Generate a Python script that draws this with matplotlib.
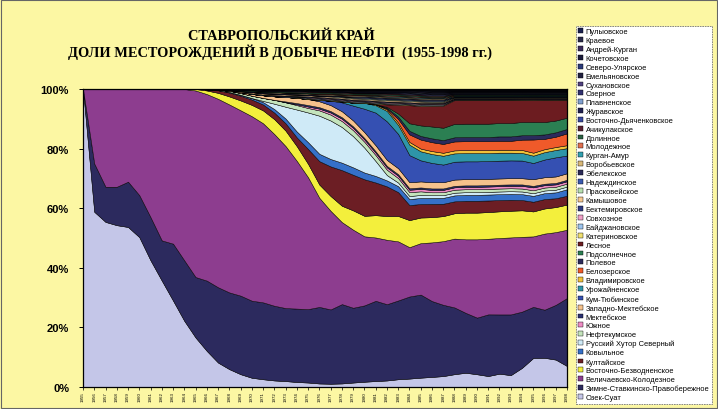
import matplotlib
matplotlib.use('Agg')
import matplotlib.pyplot as plt
import numpy as np
from matplotlib.patches import Patch, Rectangle

years = list(range(1955, 1999))

# shares of fields (%), bottom of stack first
ozek_suat = [100, 58.8, 55.4, 54.3, 53.7, 50.3, 42.5, 35.7, 29.0, 22.2, 16.6,
             12.1, 8.2, 6.0, 4.3, 3.1, 2.6, 2.2, 2.0, 1.7, 1.5, 1.2,
             1.1, 1.2, 1.5, 1.8, 2.0, 2.2, 2.6, 2.8, 3.1, 3.4, 3.7,
             4.3, 4.8, 4.3, 3.7, 4.5, 4.0, 6.5, 9.9, 9.9, 9.3, 7.1]
zimne_stavka = [0, 16.2, 11.8, 12.9, 15.2, 14.1, 14.5, 13.5, 19.1, 20.3, 20.3,
                23.6, 25.3, 25.8, 26.4, 25.9, 25.8, 25.1, 24.7, 25.0, 24.7, 26.1,
                25.1, 26.7, 25.2, 26.1, 27.0, 25.7, 26.4, 27.3, 27.6, 25.6, 24.2,
                22.4, 20.2, 19.1, 20.8, 20.0, 20.5, 19.1, 17.4, 16.3, 18.6, 23.0]
velichaevsko = [0, 25.0, 32.8, 32.8, 31.1, 35.6, 43.0, 50.8, 51.9, 57.5, 62.6,
                62.6, 63.3, 63.2, 62.3, 62.0, 60.1, 57.7, 54.8, 50.3, 44.3, 37.2,
                33.3, 27.6, 26.3, 23.6, 21.3, 21.7, 19.8, 16.4, 17.1, 19.8, 21.6,
                23.1, 24.8, 26.4, 25.5, 25.8, 26.0, 25.4, 24.0, 25.8, 24.7, 23.1]
vost_bezvodnoe = [0, 0, 0, 0, 0, 0, 0, 0, 0, 0, 0.5,
                  1.2, 2.0, 2.7, 3.3, 3.8, 4.3, 5.0, 5.2, 5.0, 4.5, 4.5,
                  5.0, 5.5, 6.5, 7.0, 7.5, 8.0, 8.5, 9.0, 8.5, 8.5, 8.5,
                  8.5, 9.0, 9.0, 9.0, 9.0, 9.0, 9.0, 8.5, 8.5, 8.5, 8.5]
kultay = [0, 0, 0, 0, 0, 0, 0, 0, 0, 0, 0,
          0.4, 0.9, 1.3, 1.6, 1.8, 2.0, 2.2, 2.5, 3.0, 5.0, 8.0,
          10.0, 12.0, 12.0, 12.5, 11.0, 10.0, 8.0, 5.0, 4.5, 4.5, 4.2,
          4.0, 4.0, 4.0, 3.9, 3.8, 3.7, 3.5, 3.3, 3.2, 3.0, 3.0]
kovylnoe = [0, 0, 0, 0, 0, 0, 0, 0, 0, 0, 0,
            0, 0, 0.2, 0.3, 0.5, 0.8, 1.2, 1.6, 2.0, 2.3, 2.5,
            2.5, 2.5, 2.5, 2.3, 2.2, 2.0, 2.0, 2.0, 2.0, 2.0, 2.0,
            2.0, 2.0, 2.0, 2.0, 2.0, 2.0, 2.0, 2.0, 2.0, 2.0, 2.2]
rus_hutor = [0, 0, 0, 0, 0, 0, 0, 0, 0, 0, 0,
             0, 0, 0, 0, 0, 0.4, 1.8, 4.0, 7.5, 10.0, 13.0,
             13.0, 12.0, 10.5, 8.5, 5.0, 1.8, 1.2, 1.0, 1.0, 0.9, 0.9,
             0.9, 0.9, 0.9, 0.9, 0.9, 0.9, 0.9, 0.9, 0.9, 0.9, 0.9]
neftekum = [0, 0, 0, 0, 0, 0, 0, 0, 0, 0, 0,
            0, 0.2, 0.4, 0.6, 0.8, 1.0, 1.3, 1.5, 1.5, 1.5, 1.8,
            2.0, 2.0, 2.0, 2.0, 2.0, 1.8, 1.5, 1.3, 1.2, 1.0, 1.0,
            1.0, 1.0, 1.0, 1.0, 1.0, 1.0, 1.0, 1.0, 1.0, 1.0, 1.0]
yuzhnoe = [0, 0, 0, 0, 0, 0, 0, 0, 0, 0, 0,
           0, 0, 0, 0, 0, 0, 0, 0, 0.3, 0.5, 0.6,
           0.7, 0.8, 0.8, 0.8, 0.8, 0.8, 0.8, 0.8, 0.8, 0.8, 0.8,
           0.8, 0.8, 0.8, 0.8, 0.8, 0.8, 0.9, 1.0, 0.8, 0.8, 0.8]
mektebskoe = [0, 0, 0, 0, 0, 0, 0, 0, 0, 0, 0,
              0, 0, 0, 0, 0, 0, 0, 0.3, 0.4, 0.5, 0.5,
              0.5, 0.5, 0.5, 0.5, 0.5, 0.5, 0.5, 0.5, 0.5, 0.5, 0.5,
              0.5, 0.5, 0.5, 0.5, 0.5, 0.5, 0.5, 0.5, 0.5, 0.5, 0.5]
zap_mekteb = [0, 0, 0, 0, 0, 0, 0, 0, 0, 0, 0,
              0, 0, 0, 0.3, 0.6, 0.9, 1.2, 1.5, 1.8, 2.0, 2.0,
              2.0, 2.0, 2.0, 2.0, 2.0, 2.0, 2.0, 2.0, 2.0, 2.1, 2.1,
              2.1, 2.1, 2.1, 2.1, 2.1, 2.1, 2.1, 2.3, 2.2, 2.2, 2.2]
kum_tyube = [0, 0, 0, 0, 0, 0, 0, 0, 0, 0, 0,
             0, 0, 0, 0, 0, 0, 0, 0, 0, 0, 0.5,
             1.5, 3.0, 5.0, 8.0, 11.0, 13.0, 11.5, 9.0, 7.0, 6.5, 6.0,
             6.0, 6.0, 6.0, 6.0, 6.0, 6.0, 6.0, 5.5, 6.0, 6.5, 6.0]
urozhay = [0, 0, 0, 0, 0, 0, 0, 0, 0, 0, 0,
           0, 0, 0, 0, 0, 0, 0, 0, 0, 0, 0,
           0, 0.3, 1.0, 2.0, 2.5, 3.5, 3.0, 3.5, 3.0, 3.0, 3.0,
           2.8, 2.8, 2.8, 2.7, 2.7, 2.6, 2.6, 2.5, 2.5, 2.5, 2.5]
vladimir = [0, 0, 0, 0, 0, 0, 0, 0, 0, 0, 0,
            0, 0, 0, 0, 0, 0, 0, 0, 0, 0, 0,
            0, 0, 0, 0, 0.3, 0.5, 0.8, 0.9, 0.9, 1.0, 1.0,
            1.0, 1.0, 1.0, 1.0, 1.0, 1.0, 1.0, 1.0, 1.0, 1.0, 1.0]
belozer = [0, 0, 0, 0, 0, 0, 0, 0, 0, 0, 0,
           0, 0, 0, 0, 0, 0, 0, 0, 0, 0, 0,
           0, 0, 0, 0, 0, 0.3, 1.2, 2.5, 3.0, 3.0, 3.0,
           3.0, 3.0, 3.0, 3.0, 3.0, 3.0, 3.5, 4.5, 3.5, 3.5, 4.0]
polevoe = [0, 0, 0, 0, 0, 0, 0, 0, 0, 0, 0,
           0, 0, 0, 0, 0, 0, 0, 0, 0, 0, 0,
           0, 0, 0, 0, 0, 0.3, 0.8, 1.2, 1.2, 1.3, 1.3,
           1.4, 1.4, 1.4, 1.4, 1.5, 1.5, 1.5, 1.5, 1.5, 1.5, 1.5]
podsolnech = [0, 0, 0, 0, 0, 0, 0, 0, 0, 0, 0,
              0, 0, 0, 0, 0, 0, 0, 0, 0, 0, 0,
              0, 0, 0, 0, 0, 0.3, 1.0, 2.5, 3.5, 4.0, 4.2,
              4.5, 4.5, 4.5, 4.5, 4.5, 4.5, 4.5, 4.5, 4.2, 4.0, 3.8]
lesnoe = [0, 0, 0, 0, 0, 0, 0, 0, 0, 0, 0,
          0, 0, 0, 0, 0, 0, 0, 0, 0, 0, 0,
          0, 0, 0, 0, 0.2, 0.8, 3.0, 6.0, 6.5, 7.0, 7.5,
          8.0, 8.0, 8.0, 8.0, 7.8, 7.8, 7.5, 7.5, 7.5, 7.0, 6.0]
katerin = [0, 0, 0, 0, 0, 0, 0, 0, 0, 0, 0,
           0, 0, 0, 0, 0, 0, 0, 0, 0.2, 0.25, 0.25,
           0.25, 0.25, 0.25, 0.25, 0.25, 0.25, 0.25, 0.25, 0.25, 0.25, 0.25,
           0.15, 0.15, 0.15, 0.15, 0.15, 0.15, 0.15, 0.15, 0.15, 0.15, 0.15]
baydzhan = [0, 0, 0, 0, 0, 0, 0, 0, 0, 0, 0,
            0, 0, 0, 0, 0.2, 0.25, 0.25, 0.25, 0.25, 0.25, 0.25,
            0.25, 0.25, 0.25, 0.25, 0.25, 0.25, 0.25, 0.25, 0.25, 0.25, 0.25,
            0.15, 0.15, 0.15, 0.15, 0.15, 0.15, 0.15, 0.15, 0.15, 0.15, 0.15]
sovhoz = [0, 0, 0, 0, 0, 0, 0, 0, 0, 0, 0,
          0, 0, 0, 0, 0, 0, 0, 0, 0, 0.2, 0.25,
          0.25, 0.25, 0.25, 0.25, 0.25, 0.25, 0.25, 0.25, 0.25, 0.25, 0.25,
          0.15, 0.15, 0.15, 0.15, 0.15, 0.15, 0.15, 0.15, 0.15, 0.15, 0.15]
bektemir = [0, 0, 0, 0, 0, 0, 0, 0, 0, 0, 0,
            0, 0, 0, 0, 0, 0, 0.2, 0.25, 0.25, 0.25, 0.25,
            0.25, 0.25, 0.25, 0.25, 0.25, 0.25, 0.25, 0.25, 0.25, 0.25, 0.25,
            0.15, 0.15, 0.15, 0.15, 0.15, 0.15, 0.15, 0.15, 0.15, 0.15, 0.15]
kamysh = [0, 0, 0, 0, 0, 0, 0, 0, 0, 0, 0,
          0, 0, 0.2, 0.3, 0.4, 0.4, 0.4, 0.4, 0.4, 0.4, 0.4,
          0.4, 0.4, 0.4, 0.4, 0.4, 0.4, 0.4, 0.4, 0.4, 0.3, 0.3,
          0.2, 0.2, 0.2, 0.2, 0.2, 0.2, 0.2, 0.2, 0.2, 0.2, 0.2]
praskov = [0, 0, 0, 0, 0, 0, 0, 0, 0, 0, 0,
           0, 0, 0, 0, 0, 0, 0, 0, 0, 0, 0,
           0.2, 0.3, 0.3, 0.3, 0.3, 0.3, 0.3, 0.3, 0.3, 0.3, 0.3,
           0.15, 0.15, 0.15, 0.15, 0.15, 0.15, 0.15, 0.15, 0.15, 0.15, 0.15]
nadezhd = [0, 0, 0, 0, 0, 0, 0, 0, 0, 0, 0,
           0, 0, 0, 0, 0, 0, 0, 0, 0, 0, 0,
           0, 0, 0.2, 0.3, 0.3, 0.3, 0.3, 0.3, 0.3, 0.3, 0.3,
           0.15, 0.15, 0.15, 0.15, 0.15, 0.15, 0.15, 0.15, 0.15, 0.15, 0.15]
ebelek = [0, 0, 0, 0, 0, 0, 0, 0, 0, 0, 0,
          0, 0, 0, 0.2, 0.3, 0.3, 0.3, 0.3, 0.3, 0.3, 0.3,
          0.3, 0.3, 0.3, 0.3, 0.3, 0.3, 0.3, 0.3, 0.3, 0.3, 0.3,
          0.15, 0.15, 0.15, 0.15, 0.15, 0.15, 0.15, 0.15, 0.15, 0.15, 0.15]
vorobiev = [0, 0, 0, 0, 0, 0, 0, 0, 0, 0, 0,
            0, 0, 0, 0, 0, 0.2, 0.3, 0.3, 0.3, 0.3, 0.3,
            0.3, 0.3, 0.3, 0.3, 0.3, 0.3, 0.3, 0.3, 0.3, 0.3, 0.3,
            0.15, 0.15, 0.15, 0.15, 0.15, 0.15, 0.15, 0.15, 0.15, 0.15, 0.15]
kurgan_amur = [0, 0, 0, 0, 0, 0, 0, 0, 0, 0, 0,
               0, 0, 0, 0, 0, 0, 0, 0, 0, 0, 0,
               0, 0, 0, 0, 0.2, 0.25, 0.25, 0.25, 0.25, 0.25, 0.25,
               0.15, 0.15, 0.15, 0.15, 0.15, 0.15, 0.15, 0.15, 0.15, 0.15, 0.15]
molodezh = [0, 0, 0, 0, 0, 0, 0, 0, 0, 0, 0,
            0, 0, 0, 0, 0, 0, 0, 0, 0, 0, 0.2,
            0.25, 0.25, 0.25, 0.25, 0.25, 0.25, 0.25, 0.25, 0.25, 0.25, 0.25,
            0.15, 0.15, 0.15, 0.15, 0.15, 0.15, 0.15, 0.15, 0.15, 0.15, 0.15]
dolinnoe = [0, 0, 0, 0, 0, 0, 0, 0, 0, 0, 0,
            0, 0.1, 0.2, 0.35, 0.35, 0.35, 0.35, 0.35, 0.35, 0.35, 0.35,
            0.35, 0.35, 0.35, 0.35, 0.35, 0.35, 0.35, 0.35, 0.35, 0.3, 0.3,
            0.2, 0.2, 0.2, 0.2, 0.2, 0.2, 0.2, 0.2, 0.2, 0.2, 0.2]
achikulak = [0, 0, 0, 0, 0, 0, 0, 0, 0, 0, 0,
             0, 0, 0, 0, 0, 0, 0, 0.2, 0.3, 0.3, 0.3,
             0.3, 0.3, 0.3, 0.3, 0.3, 0.3, 0.3, 0.3, 0.3, 0.3, 0.3,
             0.15, 0.15, 0.15, 0.15, 0.15, 0.15, 0.15, 0.15, 0.15, 0.15, 0.15]
vost_dyachenk = [0, 0, 0, 0, 0, 0, 0, 0, 0, 0, 0,
                 0, 0, 0, 0, 0, 0, 0, 0, 0, 0, 0,
                 0, 0, 0, 0, 0, 0.2, 0.25, 0.25, 0.25, 0.25, 0.25,
                 0.15, 0.15, 0.15, 0.15, 0.15, 0.15, 0.15, 0.15, 0.15, 0.15, 0.15]
zhuravsk = [0, 0, 0, 0, 0, 0, 0, 0, 0, 0, 0,
            0, 0, 0, 0, 0.2, 0.25, 0.25, 0.25, 0.25, 0.25, 0.25,
            0.25, 0.25, 0.25, 0.25, 0.25, 0.25, 0.25, 0.25, 0.25, 0.25, 0.25,
            0.15, 0.15, 0.15, 0.15, 0.15, 0.15, 0.15, 0.15, 0.15, 0.15, 0.15]
plavnen = [0, 0, 0, 0, 0, 0, 0, 0, 0, 0, 0,
           0, 0, 0, 0, 0, 0, 0, 0, 0, 0, 0,
           0, 0, 0, 0, 0, 0, 0, 0.15, 0.2, 0.2, 0.2,
           0.15, 0.15, 0.15, 0.15, 0.15, 0.15, 0.15, 0.15, 0.15, 0.15, 0.15]
ozernoe = [0, 0, 0, 0, 0, 0, 0, 0, 0, 0, 0,
           0.1, 0.1, 0.2, 0.2, 0.2, 0.2, 0.2, 0.2, 0.2, 0.2, 0.2,
           0.2, 0.2, 0.2, 0.2, 0.2, 0.2, 0.2, 0.2, 0.2, 0.2, 0.2,
           0.15, 0.15, 0.15, 0.15, 0.15, 0.15, 0.15, 0.15, 0.15, 0.15, 0.15]
suhanov = [0, 0, 0, 0, 0, 0, 0, 0, 0, 0, 0,
           0, 0, 0, 0, 0, 0, 0, 0, 0, 0, 0,
           0, 0.15, 0.2, 0.2, 0.2, 0.2, 0.2, 0.2, 0.2, 0.2, 0.2,
           0.15, 0.15, 0.15, 0.15, 0.15, 0.15, 0.15, 0.15, 0.15, 0.15, 0.15]
emelyan = [0, 0, 0, 0, 0, 0, 0, 0, 0, 0, 0,
           0, 0, 0, 0, 0, 0.15, 0.2, 0.2, 0.2, 0.2, 0.2,
           0.2, 0.2, 0.2, 0.2, 0.2, 0.2, 0.2, 0.2, 0.2, 0.2, 0.2,
           0.15, 0.15, 0.15, 0.15, 0.15, 0.15, 0.15, 0.15, 0.15, 0.15, 0.15]
severo_ulyar = [0, 0, 0, 0, 0, 0, 0, 0, 0, 0, 0,
                0, 0, 0, 0, 0, 0, 0, 0, 0, 0, 0,
                0, 0, 0, 0, 0, 0, 0, 0, 0.15, 0.2, 0.2,
                0.15, 0.15, 0.15, 0.15, 0.15, 0.15, 0.15, 0.15, 0.15, 0.15, 0.15]
kochetov = [0, 0, 0, 0, 0, 0, 0, 0, 0, 0, 0,
            0, 0, 0, 0, 0, 0, 0, 0, 0, 0.15, 0.2,
            0.2, 0.2, 0.2, 0.2, 0.2, 0.2, 0.2, 0.2, 0.2, 0.2, 0.2,
            0.15, 0.15, 0.15, 0.15, 0.15, 0.15, 0.15, 0.15, 0.15, 0.15, 0.15]
andrey_kurgan = [0, 0, 0, 0, 0, 0, 0, 0, 0, 0, 0,
                 0, 0, 0, 0, 0, 0, 0, 0, 0, 0, 0,
                 0, 0, 0, 0, 0, 0, 0, 0, 0, 0.15, 0.15,
                 0.15, 0.15, 0.15, 0.15, 0.15, 0.15, 0.15, 0.15, 0.15, 0.15, 0.15]
kraevoe = [0, 0, 0, 0, 0, 0, 0, 0, 0, 0, 0,
           0, 0, 0, 0, 0, 0, 0, 0, 0, 0, 0,
           0, 0, 0.15, 0.2, 0.2, 0.2, 0.2, 0.2, 0.2, 0.2, 0.2,
           0.15, 0.15, 0.15, 0.15, 0.15, 0.15, 0.15, 0.15, 0.15, 0.15, 0.15]
pulyov = [0, 0, 0, 0, 0, 0, 0, 0, 0, 0, 0,
          0, 0, 0, 0, 0, 0, 0, 0, 0, 0, 0,
          0, 0, 0, 0, 0, 0, 0, 0, 0, 0, 0,
          0.15, 0.15, 0.15, 0.15, 0.15, 0.15, 0.15, 0.15, 0.15, 0.15, 0.15]

# stack order: bottom -> top
series = [
    ("Озек-Суат", ozek_suat, '#c4c6e8'),
    ("Зимне-Ставкинско-Правобережное", zimne_stavka, '#2c2a5e'),
    ("Величаевско-Колодезное", velichaevsko, '#8d3d8f'),
    ("Восточно-Безводненское", vost_bezvodnoe, '#f3ef3c'),
    ("Култайское", kultay, '#6c1e24'),
    ("Ковыльное", kovylnoe, '#3570c8'),
    ("Русский Хутор Северный", rus_hutor, '#cfeaf7'),
    ("Нефтекумское", neftekum, '#c4e4bc'),
    ("Южное", yuzhnoe, '#ee8cc4'),
    ("Мектебское", mektebskoe, '#2a3072'),
    ("Западно-Мектебское", zap_mekteb, '#f6c28c'),
    ("Кум-Тюбинское", kum_tyube, '#3550b2'),
    ("Урожайненское", urozhay, '#2e95a8'),
    ("Владимировское", vladimir, '#f2c23a'),
    ("Белозерское", belozer, '#ef5a2a'),
    ("Полевое", polevoe, '#2b2b5c'),
    ("Подсолнечное", podsolnech, '#2b7f52'),
    ("Лесное", lesnoe, '#6c1c20'),
    ("Катериновское", katerin, '#f0e070'),
    ("Байджановское", baydzhan, '#9cc4ee'),
    ("Совхозное", sovhoz, '#f0a0c8'),
    ("Бектемировское", bektemir, '#2d3a82'),
    ("Камышовое", kamysh, '#f7c890'),
    ("Прасковейское", praskov, '#b8e0b0'),
    ("Надеждинское", nadezhd, '#3a5ab0'),
    ("Эбелекское", ebelek, '#2a2a58'),
    ("Воробьевское", vorobiev, '#d8b878'),
    ("Курган-Амур", kurgan_amur, '#30a0b0'),
    ("Молодежное", molodezh, '#e07050'),
    ("Долинное", dolinnoe, '#2a6242'),
    ("Ачикулакское", achikulak, '#5a2030'),
    ("Восточно-Дьяченковское", vost_dyachenk, '#3a4aa0'),
    ("Журавское", zhuravsk, '#202050'),
    ("Плавненское", plavnen, '#80a0d0'),
    ("Озерное", ozernoe, '#303070'),
    ("Сухановское", suhanov, '#504080'),
    ("Емельяновское", emelyan, '#202040'),
    ("Северо-Улярское", severo_ulyar, '#2a3a7a'),
    ("Кочетовское", kochetov, '#1a1a3a'),
    ("Андрей-Курган", andrey_kurgan, '#3a2a5a'),
    ("Краевое", kraevoe, '#2a2a4a'),
    ("Пулыовское", pulyov, '#1a2050'),
]

for name, vals, _ in series:
    assert len(vals) == len(years), (name, len(vals))

names = [s[0] for s in series]
colors = [s[2] for s in series]
data = np.array([s[1] for s in series], dtype=float)
shares = data / data.sum(axis=0) * 100.0

W, H = 718, 410
fig = plt.figure(figsize=(W / 100, H / 100), dpi=100)
bg = '#fcf7a3'
fig.patch.set_facecolor(bg)

ax = fig.add_axes([83 / W, 22 / H, 484 / W, 298 / H])
ax.stackplot(years, shares, colors=colors, edgecolor='black', linewidth=0.35)
ax.set_xlim(years[0], years[-1])
ax.set_ylim(0, 100)
ax.set_facecolor('white')
for sp in ax.spines.values():
    sp.set_linewidth(0.9)
    sp.set_color('black')

yt = [0, 20, 40, 60, 80, 100]
ax.set_yticks(yt)
ax.set_yticklabels([f"{v}%" for v in yt], fontsize=8, fontweight='bold',
                   family='Liberation Sans')
ax.set_xticks(years)
ax.set_xticklabels([str(y) for y in years], rotation=90, fontsize=3.2,
                   family='Liberation Sans')
ax.tick_params(axis='y', length=3, width=0.7, pad=7)
ax.tick_params(axis='x', length=2, width=0.5, pad=1)

fig.text(281 / W, 1 - 37 / H, "СТАВРОПОЛЬСКИЙ КРАЙ", ha='center', va='center',
         fontsize=10.4, fontweight='bold', family='Liberation Serif')
fig.text(280 / W, 1 - 52 / H, "ДОЛИ МЕСТОРОЖДЕНИЙ В ДОБЫЧЕ НЕФТИ  (1955-1998 гг.)",
         ha='center', va='center', fontsize=10.4, fontweight='bold',
         family='Liberation Serif')

handles = [Patch(facecolor=c, edgecolor='black', linewidth=0.3) for c in colors]
leg = fig.legend(handles[::-1], names[::-1], loc='upper left',
                 bbox_to_anchor=(576 / W, 1 - 27 / H), borderaxespad=0,
                 labelspacing=0.24, handlelength=0.6,
                 handleheight=0.6, handletextpad=0.4, borderpad=0.3,
                 fancybox=False, framealpha=1, facecolor='white',
                 edgecolor='#777777', prop={'family': 'Liberation Sans', 'size': 5.4})
leg.get_frame().set_linewidth(0.6)
leg.get_frame().set_linestyle((0, (2, 1)))

fig.patches.append(Rectangle((1 / W, 1 / H), 1 - 2 / W, 1 - 2 / H,
                             transform=fig.transFigure, fill=False,
                             edgecolor='#666666', linewidth=0.8))

fig.savefig('out.png', dpi=100, facecolor=bg)
